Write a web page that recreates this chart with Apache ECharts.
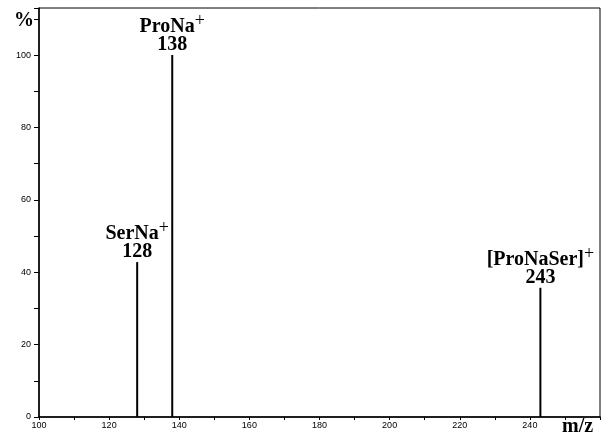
<!DOCTYPE html>
<html><head><meta charset="utf-8">
<script src="https://cdn.jsdelivr.net/npm/echarts@6/dist/echarts.min.js"></script>
<style>html,body{margin:0;padding:0;background:#fff}#c{width:610px;height:439px}</style>
</head><body><div id="c"></div>
<script>
const mz = [128, 138, 243];
const intensity = [42.8, 100, 35.7];
const ionNames = ['SerNa', 'ProNa', '[ProNaSer]'];
const xTickLabels = [100, 120, 140, 160, 180, 200, 220, 240];
const yTickLabels = [0, 20, 40, 60, 80, 100];

const chart = echarts.init(document.getElementById('c'));
const serif = '"Liberation Serif","Times New Roman",serif';
const data = mz.map((m, i) => ({
  value: [m, intensity[i]],
  label: { formatter: '{a|' + ionNames[i] + '}{s|+}\n{b|' + m + '}' }
}));
chart.setOption({
  animation: false,
  grid: { left: 39, right: 10, top: 8, bottom: 22, show: true, borderColor: '#000', borderWidth: 1 },
  xAxis: {
    type: 'value', min: 100, max: 260, interval: 10,
    axisLine: { lineStyle: { color: '#000', width: 1.5 } },
    axisTick: { lineStyle: { color: '#000' }, length: 3 },
    splitLine: { show: false },
    axisLabel: {
      color: '#000', fontSize: 9, fontFamily: 'Liberation Sans', margin: 4,
      formatter: v => xTickLabels.includes(v) ? String(v) : ''
    }
  },
  yAxis: {
    type: 'value', min: 0, max: 113, interval: 10,
    axisLine: { show: true, lineStyle: { color: '#000', width: 1.5 } },
    axisTick: { show: true, lineStyle: { color: '#000' }, length: 5 },
    splitLine: { show: false },
    axisLabel: {
      color: '#000', fontSize: 9, fontFamily: 'Liberation Sans', margin: 8,
      formatter: v => yTickLabels.includes(v) ? String(v) : ''
    }
  },
  graphic: [
    { type: 'text', left: 14, top: 11, style: { text: '%', font: 'bold 20px ' + serif, fill: '#000' } },
    { type: 'text', left: 562, top: 417, style: { text: 'm/z', font: 'bold 20px ' + serif, fill: '#000' } }
  ],
  series: [{
    type: 'bar', data: data, barWidth: 2, itemStyle: { color: '#000' },
    label: {
      show: true, position: 'top', distance: 1, align: 'center',
      rich: {
        a: { fontFamily: serif, fontWeight: 'bold', fontSize: 20, color: '#000', lineHeight: 18 },
        s: { fontFamily: serif, fontSize: 18, color: '#000', lineHeight: 18, padding: [0, 0, 11, 0] },
        b: { fontFamily: serif, fontWeight: 'bold', fontSize: 20, color: '#000', lineHeight: 18 }
      }
    }
  }]
});
</script></body></html>
